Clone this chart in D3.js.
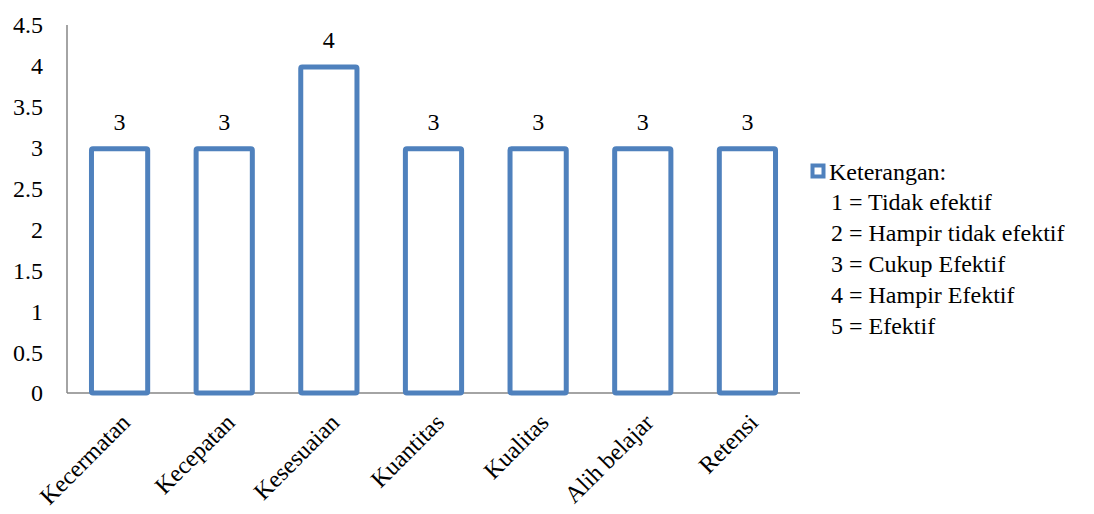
<!DOCTYPE html>
<html>
<head>
<meta charset="utf-8">
<script src="https://cdn.jsdelivr.net/npm/d3@7"></script>
<style>
  body { margin: 0; background: #fff; }
</style>
</head>
<body>
<div id="chart"></div>
<script>
// data
const categories = ["Kecermatan", "Kecepatan", "Kesesuaian", "Kuantitas", "Kualitas", "Alih belajar", "Retensi"];
const values = [3, 3, 4, 3, 3, 3, 3];
const yTicks = [0, 0.5, 1, 1.5, 2, 2.5, 3, 3.5, 4, 4.5];
const legendTitle = "Keterangan:";
const legendLines = ["1 = Tidak efektif", "2 = Hampir tidak efektif", "3 = Cukup Efektif", "4 = Hampir Efektif", "5 = Efektif"];

const svgWidth = 1094, svgHeight = 514;
const margin = { top: 25, left: 67, bottom: 121, right: 294 };
const width = svgWidth - margin.left - margin.right;
const height = svgHeight - margin.top - margin.bottom;
const barColor = "#4f81bd";
const fontFam = "Liberation Serif, DejaVu Serif, serif";

const svg = d3.select("#chart").append("svg")
  .attr("width", svgWidth)
  .attr("height", svgHeight)
  .style("font-family", fontFam);

const g = svg.append("g")
  .attr("transform", `translate(${margin.left},${margin.top})`);

const x = d3.scaleBand(categories, [0, width]).paddingInner(0.415).paddingOuter(0.21);
const y = d3.scaleLinear([0, 4.5], [height, 0]);

// y axis labels (no tick marks)
g.selectAll(".ylab")
  .data(yTicks)
  .enter()
  .append("text")
  .attr("class", "ylab")
  .attr("x", -24)
  .attr("y", d => y(d))
  .attr("dy", "0.35em")
  .attr("text-anchor", "end")
  .style("font-size", "24px")
  .text(d => d);

// axis lines
g.append("line")
  .attr("x1", 0).attr("x2", 0)
  .attr("y1", 0).attr("y2", height)
  .attr("stroke", "#868686").attr("stroke-width", 1.5);
g.append("line")
  .attr("x1", 0).attr("x2", width)
  .attr("y1", height).attr("y2", height)
  .attr("stroke", "#868686").attr("stroke-width", 1.5);

// bars (outlined)
const sw = 5;
g.selectAll("rect.bar")
  .data(values)
  .enter()
  .append("rect")
  .attr("class", "bar")
  .attr("x", (d, i) => x(categories[i]) + sw / 2)
  .attr("y", d => y(d) + 1)
  .attr("width", x.bandwidth() - sw)
  .attr("height", d => height - y(d) - 1)
  .attr("rx", 1.5)
  .attr("fill", "#fff")
  .attr("stroke", barColor)
  .attr("stroke-width", sw);

// value labels
g.selectAll(".value")
  .data(values)
  .enter()
  .append("text")
  .attr("class", "value")
  .attr("x", (d, i) => x(categories[i]) + x.bandwidth() / 2)
  .attr("y", d => y(d) - 18)
  .attr("text-anchor", "middle")
  .style("font-size", "24px")
  .text(d => d);

// category labels, rotated
g.selectAll(".xlab")
  .data(categories)
  .enter()
  .append("text")
  .attr("class", "xlab")
  .attr("transform", d => `translate(${x(d) + x.bandwidth() / 2 + 12},${height + 31}) rotate(-45)`)
  .attr("text-anchor", "end")
  .style("font-size", "24px")
  .text(d => d);

// legend
const lg = svg.append("g").attr("transform", "translate(810,0)");
lg.append("rect")
  .attr("x", 2.5).attr("y", 165.5)
  .attr("width", 11).attr("height", 11)
  .attr("fill", "#fff")
  .attr("stroke", barColor)
  .attr("stroke-width", 4);
lg.append("text")
  .attr("x", 19).attr("y", 180)
  .style("font-size", "24px")
  .text(legendTitle);
lg.selectAll(".leg")
  .data(legendLines)
  .enter()
  .append("text")
  .attr("class", "leg")
  .attr("x", 21)
  .attr("y", (d, i) => 210 + i * 31)
  .style("font-size", "24px")
  .text(d => d);
</script>
</body>
</html>
